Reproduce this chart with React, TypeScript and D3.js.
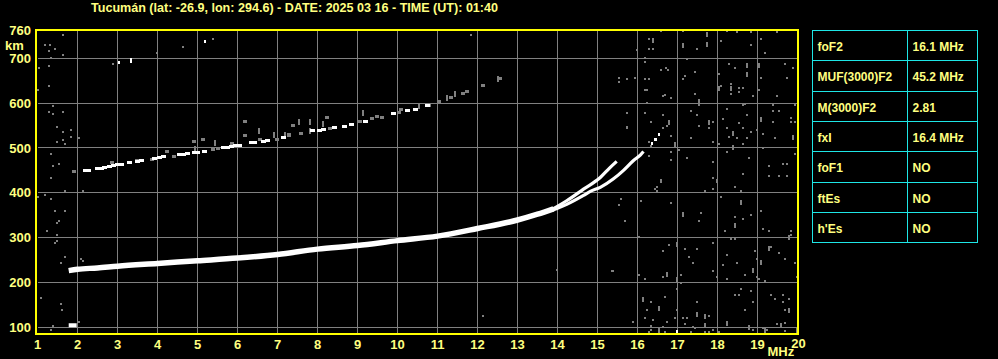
import React from "react";
import * as d3 from "d3";

const TITLE = "Tucumán (lat: -26.9, lon: 294.6) - DATE: 2025 03 16 - TIME (UT): 01:40";
const freqTicks = [1, 2, 3, 4, 5, 6, 7, 8, 9, 10, 11, 12, 13, 14, 15, 16, 17, 18, 19, 20];
const heightTicks = [100, 200, 300, 400, 500, 600, 700];
const heightTop = 760;
const paramNames = ["foF2", "MUF(3000)F2", "M(3000)F2", "fxI", "foF1", "ftEs", "h'Es"];
const paramValues = ["16.1 MHz", "45.2 MHz", "2.81", "16.4 MHz", "NO", "NO", "NO"];

// First-hop F2 trace (MHz, km)
const firstHop: [number, number][] = [
  [1.78, 226], [2.0, 229], [2.5, 232], [3.0, 236], [4.0, 242], [5.0, 248], [6.0, 254],
  [7.0, 262], [8.0, 274], [9.0, 282], [10.0, 293], [11.0, 303], [12.0, 320], [13.0, 339],
  [13.5, 352], [13.9, 364],
];
const branchO: [number, number][] = [
  [13.85, 362], [14.23, 382], [14.65, 408], [15.07, 434], [15.3, 455], [15.48, 470],
];
const branchX: [number, number][] = [
  [13.85, 360], [14.23, 374], [14.65, 394], [14.82, 403], [15.07, 412], [15.4, 431],
  [15.65, 450], [15.9, 472], [16.07, 484], [16.15, 492],
];
const traceTail: [number, number][] = [[16.36, 510], [16.44, 518], [16.53, 529]];
const eLayer: [number, number][] = [[1.78, 104], [1.98, 104]];

// Second-hop trace echoes
const secondHopWhite: [number, number][] = [
  [2.19, 449], [2.27, 450], [2.5, 454], [2.6, 455], [2.68, 456], [2.8, 459], [2.9, 461],
  [3.0, 462], [3.1, 463], [3.3, 467], [3.5, 470], [3.6, 471], [3.92, 476], [4.05, 478],
  [4.15, 480], [4.55, 485], [4.65, 486], [4.75, 487], [4.92, 489], [5.0, 490], [5.17, 493],
  [5.65, 500], [5.75, 502], [5.85, 504], [5.95, 505], [6.05, 506], [6.35, 512], [6.42, 513],
  [6.65, 515], [6.75, 517], [7.15, 524], [7.87, 538], [8.05, 540], [8.15, 541], [8.42, 545],
  [8.68, 548], [8.86, 552], [9.2, 560], [9.89, 578], [10.25, 584], [10.44, 586], [10.75, 594],
];
const secondHopGray: [number, number][] = [
  [1.9, 447], [2.86, 468], [3.49, 471], [3.86, 475], [4.24, 491], [4.4, 480], [4.9, 514],
  [5.13, 518], [5.38, 496], [5.52, 498], [5.86, 509], [6.19, 558], [6.19, 527], [6.57, 518],
  [6.98, 518], [7.28, 529], [7.38, 550], [7.59, 533], [7.29, 527], [8.32, 544], [8.24, 568],
  [9.07, 560], [9.36, 565], [9.48, 570], [9.61, 568], [10.03, 580], [10.09, 585], [10.79, 594],
  [11.04, 603], [11.34, 612], [11.63, 621], [11.73, 625], [12.13, 639], [12.57, 656],
];
const secondHopStreaks: [number, number][] = [
  [4.94, 498], [5.44, 512], [6.53, 537], [6.9, 529], [7.19, 529], [7.53, 558], [7.8, 558],
  [7.8, 538], [8.13, 553], [9.13, 577], [10.54, 594], [11.23, 611], [11.44, 621], [12.52, 654],
];
const whiteSpecks: [number, number][] = [
  [5.19, 737], [3.03, 690], [3.34, 698], [3.34, 693], [16.99, 89],
];

// Background noise echoes
const noiseDots: [number, number][] = [
  [1.64, 752], [1.19, 730], [1.32, 730], [1.44, 721], [1.29, 716], [1.64, 708], [1.34, 702],
  [1.04, 679], [1.29, 683], [1.29, 638], [1.0, 630], [1.39, 594], [1.64, 580], [1.29, 580],
  [1.39, 576], [1.49, 547], [1.84, 540], [1.64, 536], [1.84, 525], [2.04, 523], [1.64, 518],
  [1.49, 514], [1.69, 509], [1.34, 487], [1.54, 465], [1.39, 460], [1.34, 433],
  [4.64, 725], [5.39, 744], [3.99, 712], [2.89, 688], [11.84, 753],
  [1.69, 404], [2.14, 404], [1.19, 395], [1.34, 386], [1.0, 391], [1.44, 359], [1.69, 359],
  [1.54, 337], [1.49, 332], [1.24, 314], [1.49, 305], [1.49, 292], [1.44, 288], [1.69, 256],
  [2.09, 252], [2.14, 248], [1.59, 243], [1.09, 164], [1.59, 151], [1.62, 138], [1.39, 102],
  [1.34, 94], [2.04, 111], [12.13, 125], [13.98, 227], [15.74, 546], [16.03, 302], [15.59, 386],
  [15.69, 337], [15.36, 226],
  [16.59, 762], [17.14, 762], [18.24, 762], [18.49, 758], [18.84, 758], [19.49, 758],
  [16.29, 743], [19.09, 743], [18.09, 739], [15.99, 719], [16.29, 721], [16.39, 721],
  [17.49, 721], [18.84, 730], [19.19, 713], [16.19, 702], [16.19, 693], [17.24, 699],
  [18.29, 687], [19.69, 687], [19.89, 679], [18.44, 679], [16.59, 674], [16.7, 679],
  [16.75, 674], [17.44, 670], [18.04, 665], [17.19, 661], [15.54, 657], [15.54, 648],
  [15.74, 653], [15.94, 657], [16.19, 653], [16.29, 653], [17.14, 653], [19.09, 657],
  [19.74, 657], [18.34, 643], [18.54, 635], [18.64, 635], [18.09, 639], [16.19, 629],
  [16.24, 629], [19.04, 629], [17.44, 620], [18.34, 620], [18.54, 626], [18.89, 617],
  [19.49, 617], [16.64, 616], [16.69, 618], [16.84, 611], [18.69, 599], [18.64, 595],
  [19.39, 597], [19.94, 597], [16.24, 601], [17.54, 595], [17.34, 582], [18.24, 588],
  [19.39, 582], [19.54, 582], [15.74, 577], [16.19, 577], [16.64, 573], [17.49, 573],
  [18.74, 573], [19.84, 568], [18.14, 564], [19.39, 559], [19.84, 559], [19.94, 559],
  [16.34, 559], [17.89, 559], [18.54, 555], [16.74, 550], [15.74, 545], [16.64, 545],
  [17.54, 549], [17.79, 545], [18.24, 545], [18.64, 545], [18.99, 540], [18.84, 536],
  [19.14, 531], [16.84, 527], [17.34, 522], [18.29, 524], [18.49, 522], [18.74, 522],
  [19.44, 522], [16.29, 513], [16.34, 504], [17.89, 513], [18.04, 509], [18.64, 509],
  [17.04, 495], [16.84, 491], [18.24, 491], [19.14, 500], [19.94, 486], [17.24, 478],
  [16.29, 482], [16.84, 473], [18.79, 478], [17.89, 469], [19.29, 460], [19.64, 464],
  [19.74, 464], [18.64, 442], [19.29, 437], [19.54, 437], [19.74, 437], [16.59, 429],
  [17.89, 433], [17.99, 429],
  [16.59, 425], [16.49, 413], [16.44, 408], [16.49, 404], [17.69, 404], [17.89, 408],
  [17.99, 425], [18.44, 413], [18.59, 404], [18.09, 391], [15.59, 386], [15.54, 373],
  [16.09, 381], [16.84, 377], [19.09, 359], [18.84, 350], [17.59, 355], [15.69, 337],
  [17.54, 337], [18.44, 346], [18.64, 341], [19.14, 319], [19.29, 314], [18.19, 314],
  [19.84, 314], [19.84, 306], [18.34, 296], [18.44, 296], [16.04, 301], [17.89, 288],
  [16.79, 283], [17.19, 274], [17.49, 274], [16.64, 270], [18.94, 270], [19.34, 279],
  [19.54, 266], [18.24, 261], [17.29, 257], [19.69, 253], [18.99, 253], [18.49, 243],
  [18.14, 239], [17.39, 243], [19.94, 243], [17.89, 225], [15.39, 225], [17.09, 216],
  [18.69, 216], [16.04, 216], [16.64, 212], [16.19, 207], [18.24, 207], [18.99, 212],
  [19.04, 207], [19.19, 203], [19.99, 212], [17.99, 212], [17.09, 198], [16.99, 185],
  [18.59, 185], [18.84, 181], [18.44, 171], [18.54, 171], [19.34, 171], [19.64, 171],
  [19.44, 163], [19.64, 157], [19.79, 163], [16.69, 167], [16.34, 156], [18.89, 156],
  [17.49, 156], [16.24, 138], [16.99, 138], [18.69, 138], [19.69, 138], [16.74, 111],
  [16.39, 116], [16.19, 121], [16.94, 121], [17.14, 121], [17.24, 121], [17.79, 125],
  [15.89, 112], [17.19, 107], [19.49, 107], [19.69, 109], [16.64, 101], [16.34, 102],
  [16.34, 93], [16.69, 89], [16.29, 89], [17.34, 89], [17.69, 89], [17.79, 89],
  [17.89, 93], [18.04, 89], [18.89, 93], [19.14, 98], [19.24, 93], [19.69, 91],
  [17.44, 98], [17.39, 99], [18.89, 157],
];
const noiseStreaks: [number, number][] = [
  [17.74, 754], [16.39, 739], [17.14, 728], [17.74, 730], [18.74, 685], [19.04, 685],
  [18.74, 663], [18.04, 633], [18.34, 633], [17.54, 604], [19.09, 564], [16.79, 557],
  [17.79, 557], [18.39, 533], [19.89, 524], [16.94, 507], [18.39, 502], [18.59, 379],
  [17.14, 352], [18.44, 326], [19.79, 299], [16.99, 285], [19.29, 276], [19.09, 245],
  [18.89, 227], [16.74, 218], [16.99, 207], [16.54, 141], [19.79, 136], [17.49, 127],
  [17.69, 123], [17.69, 104], [18.24, 109], [19.59, 104], [16.54, 93], [18.79, 98],
  [19.19, 93], [19.99, 93], [16.14, 162],
];

const W = 998;
const H = 359;
const YELLOW = "#ffff80";
const FRAME = "#ffff00";
const GRID = "#808080";
const CYAN = "#1ee6e6";
const FONT = "'Liberation Sans', Arial, sans-serif";

export default function App() {
  const x = d3.scaleLinear().domain([1, 20]).range([37.5, 797.5]);
  const y = d3.scaleLinear().domain([86, 765]).range([333.3, 29.3]);
  const line = d3
    .line<[number, number]>()
    .x((d) => x(d[0]))
    .y((d) => y(d[1]))
    .curve(d3.curveMonotoneX);

  const tableX0 = 812.5;
  const tableX1 = 907.5;
  const tableX2 = 977.5;
  const rowTop = 30.5;
  const rowH = 30.3;

  return (
    <svg
      width={W}
      height={H}
      style={{ position: "fixed", left: 0, top: 0, background: "#000" }}
      fontFamily={FONT}
      fontWeight="bold"
    >
      <rect x={0} y={0} width={W} height={H} fill="#000" />
      <text x={91} y={11.5} fill={YELLOW} fontSize={12} textLength={407} lengthAdjust="spacingAndGlyphs">
        {TITLE}
      </text>

      {/* grid */}
      <g stroke={GRID} strokeWidth={1} shapeRendering="crispEdges">
        {freqTicks.slice(1, -1).map((f) => (
          <line key={"v" + f} x1={x(f)} x2={x(f)} y1={y(765)} y2={y(86)} />
        ))}
        {heightTicks.map((h) => (
          <line key={"h" + h} x1={x(1)} x2={x(20)} y1={y(h)} y2={y(h)} />
        ))}
      </g>

      {/* noise */}
      <g fill={GRID} shapeRendering="crispEdges">
        {noiseDots.map((d, i) => (
          <rect key={"n" + i} x={x(d[0]) - 1} y={y(d[1]) - 1} width={2} height={2} />
        ))}
        {noiseStreaks.map((d, i) => (
          <rect key={"s" + i} x={x(d[0]) - 1} y={y(d[1]) - 2.5} width={2} height={5} />
        ))}
        {secondHopGray.map((d, i) => (
          <rect key={"g" + i} x={x(d[0]) - 2} y={y(d[1]) - 1.5} width={4} height={3} />
        ))}
        {secondHopStreaks.map((d, i) => (
          <rect key={"gs" + i} x={x(d[0]) - 1} y={y(d[1]) - 3} width={2} height={6} />
        ))}
      </g>

      {/* echoes */}
      <g fill="#fff" shapeRendering="crispEdges">
        {secondHopWhite.map((d, i) => (
          <rect key={"w" + i} x={x(d[0]) - 2.5} y={y(d[1]) - 1.5} width={5} height={3} />
        ))}
        {whiteSpecks.map((d, i) => (
          <rect key={"ws" + i} x={x(d[0]) - 1} y={y(d[1]) - 1.5} width={2} height={3} />
        ))}
        {traceTail.map((d, i) => (
          <rect key={"t" + i} x={x(d[0]) - 1} y={y(d[1]) - 1.5} width={2.5} height={3} />
        ))}
      </g>
      <path d={line(eLayer) || ""} stroke="#fff" strokeWidth={4} fill="none" />
      <path d={line(firstHop) || ""} stroke="#fff" strokeWidth={5.5} fill="none" />
      <path d={line(branchO) || ""} stroke="#fff" strokeWidth={3.2} fill="none" />
      <path d={line(branchX) || ""} stroke="#fff" strokeWidth={3.2} fill="none" />

      {/* frame */}
      <rect
        x={36}
        y={30}
        width={762}
        height={303.5}
        fill="none"
        stroke={FRAME}
        strokeWidth={2}
        shapeRendering="crispEdges"
      />

      {/* y axis labels */}
      <g fill={YELLOW} fontSize={13} textAnchor="end">
        {heightTicks.map((h) => (
          <text key={"yl" + h} x={31} y={y(h) + 4.6}>
            {h}
          </text>
        ))}
        <text x={31} y={35.3}>
          {heightTop}
        </text>
      </g>
      <text x={5} y={49.5} fill={YELLOW} fontSize={13}>
        km
      </text>

      {/* x axis labels */}
      <g fill={YELLOW} fontSize={13} textAnchor="middle">
        {freqTicks.map((f) => (
          <text key={"xl" + f} x={f === 20 ? x(f) + 1 : x(f)} y={f === 20 ? 348 : 348.8}>
            {f}
          </text>
        ))}
      </g>
      <text x={767.5} y={356} fill={YELLOW} fontSize={13}>
        MHz
      </text>

      {/* parameter table */}
      <g stroke={CYAN} strokeWidth={1} fill="none" shapeRendering="crispEdges">
        <rect x={tableX0} y={rowTop} width={tableX2 - tableX0} height={rowH * paramNames.length} />
        <line x1={tableX1} x2={tableX1} y1={rowTop} y2={rowTop + rowH * paramNames.length} />
        {paramNames.slice(1).map((_, i) => (
          <line key={"r" + i} x1={tableX0} x2={tableX2} y1={rowTop + rowH * (i + 1)} y2={rowTop + rowH * (i + 1)} />
        ))}
      </g>
      <g fill={YELLOW} fontSize={12}>
        {paramNames.map((n, i) => (
          <text key={"pn" + i} x={817.5} y={rowTop + rowH * i + 20.5}>
            {n}
          </text>
        ))}
        {paramValues.map((v, i) => (
          <text key={"pv" + i} x={912.5} y={rowTop + rowH * i + 20.5}>
            {v}
          </text>
        ))}
      </g>
    </svg>
  );
}
